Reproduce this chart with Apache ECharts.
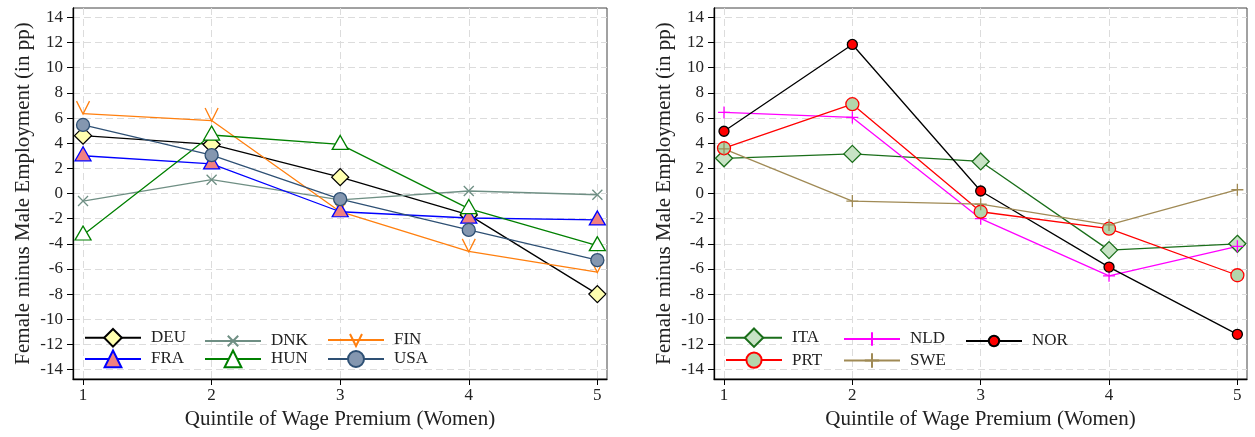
<!DOCTYPE html>
<html>
<head>
<meta charset="utf-8">
<script src="https://cdn.jsdelivr.net/npm/echarts@6/dist/echarts.min.js"></script>
<style>
html,body{margin:0;padding:0;background:#fff;}
#chart{width:1255px;height:437px;}
</style>
</head>
<body>
<div id="chart"></div>
<script>
// ---- data ----
const quintiles = [1, 2, 3, 4, 5];
const yTickValues = [-14, -12, -10, -8, -6, -4, -2, 0, 2, 4, 6, 8, 10, 12, 14];
const xTickValues = [1, 2, 3, 4, 5];

// left panel
const DEU = [4.6, 3.9, 1.3, -1.7, -8.0];
const DNK = [-0.6, 1.1, -0.5, 0.2, -0.1];
const FIN = [6.35, 5.8, -1.45, -4.6, -6.25];
const FRA = [3.0, 2.35, -1.45, -1.95, -2.1];
const HUN = [-3.3, 4.65, 3.9, -1.2, -4.15];
const USA = [5.45, 3.05, -0.45, -2.9, -5.3];

// right panel
const ITA = [2.8, 3.15, 2.55, -4.5, -4.0];
const NLD = [6.45, 6.05, -2.0, -6.55, -4.2];
const NOR = [4.95, 11.85, 0.2, -5.85, -11.2];
const PRT = [3.6, 7.1, -1.45, -2.8, -6.5];
const SWE = [3.55, -0.6, -0.85, -2.5, 0.3];

const leftLegendRows = [['DEU', 'DNK', 'FIN'], ['FRA', 'HUN', 'USA']];
const rightLegendRows = [['ITA', 'NLD', 'NOR'], ['PRT', 'SWE']];

const yTitle = 'Female minus Male Employment (in pp)';
const xTitle = 'Quintile of Wage Premium (Women)';

// ---- helpers ----
const FONT = '"Liberation Serif", "DejaVu Serif", serif';
const pts = arr => quintiles.map((q, i) => [q, arr[i]]);

const XMARK = 'path://M0,0L10,10M10,0L0,10';
const PLUS = 'path://M5,0L5,10M0,5L10,5';
const VMARK = 'path://M0,0L6,12L12,0';

// legend marker box heights (marker drawn at 80% of this)
const legendIconHeight = { DEU: 22, DNK: 13, FIN: 15, FRA: 21, HUN: 21, USA: 20, ITA: 23, NLD: 17, NOR: 13, PRT: 19, SWE: 18 };

function mk(name, data, idx, o) {
  return {
    name: name,
    type: 'line',
    xAxisIndex: idx, yAxisIndex: idx,
    data: pts(data),
    symbol: o.symbol,
    symbolSize: o.size,
    symbolOffset: o.offset || [0, 0],
    showSymbol: true,
    lineStyle: { color: o.line, width: 1.3 },
    itemStyle: { color: o.fill, borderColor: o.border, borderWidth: o.bw || 1.3, opacity: 1 },
    emphasis: { disabled: true },
    animation: false,
    z: 3
  };
}

function xAxis(idx) {
  return {
    type: 'value', gridIndex: idx, min: 0.922, max: 5.075,
    axisLine: { show: true, onZero: false, lineStyle: { color: '#000', width: 1.3 } },
    axisTick: { show: true, length: 6, customValues: xTickValues, lineStyle: { color: '#000' } },
    axisLabel: { customValues: xTickValues, color: '#222', fontFamily: FONT, fontSize: 17, margin: 8 },
    splitLine: { show: true, lineStyle: { color: '#dcdcdc', type: [7, 4], width: 1 } },
    name: xTitle, nameLocation: 'middle', nameGap: 30,
    nameTextStyle: { fontFamily: FONT, fontSize: 21, color: '#222' }
  };
}
function yAxis(idx) {
  return {
    type: 'value', gridIndex: idx, min: -14.75, max: 14.75,
    axisLine: { show: true, onZero: false, lineStyle: { color: '#000', width: 1.3 } },
    axisTick: { show: true, length: 6, customValues: yTickValues, lineStyle: { color: '#000' } },
    axisLabel: { customValues: yTickValues, color: '#222', fontFamily: FONT, fontSize: 17, margin: 10 },
    splitLine: { show: true, lineStyle: { color: '#dcdcdc', type: [7, 4], width: 1 } },
    name: yTitle, nameLocation: 'middle', nameGap: 39,
    nameTextStyle: { fontFamily: FONT, fontSize: 21, color: '#222' }
  };
}

function legendsFor(rows, colX, rowCenter) {
  const out = [];
  rows.forEach((row, r) => {
    row.forEach((name, c) => {
      const h = legendIconHeight[name];
      out.push({
        data: [name], left: colX[c], top: rowCenter[r] - h / 2, orient: 'horizontal',
        itemWidth: 56, itemHeight: h, padding: 0,
        selectedMode: false,
        textStyle: { fontFamily: FONT, fontSize: 17, color: '#222', padding: [0, 0, 0, 5] }
      });
    });
  });
  return out;
}

const series = [
  mk('DEU', DEU, 0, { symbol: 'diamond', size: 17, line: '#000', fill: '#ffffb0', border: '#000' }),
  mk('DNK', DNK, 0, { symbol: XMARK, size: 10, line: '#6f8f84', fill: 'rgba(0,0,0,0)', border: '#6f8f84' }),
  mk('FIN', FIN, 0, { symbol: VMARK, size: [13, 13], offset: [0, -6], line: '#ff7f0e', fill: 'rgba(0,0,0,0)', border: '#ff7f0e' }),
  mk('FRA', FRA, 0, { symbol: 'triangle', size: [16, 14], offset: [0, -2], line: '#0000ff', fill: '#f08080', border: '#0000ff' }),
  mk('HUN', HUN, 0, { symbol: 'triangle', size: [16, 14], offset: [0, -2], line: '#008000', fill: '#ffffff', border: '#008000' }),
  mk('USA', USA, 0, { symbol: 'circle', size: 13, line: '#2e5074', fill: '#8497b0', border: '#2e5074' }),

  mk('ITA', ITA, 1, { symbol: 'diamond', size: 17, line: '#1a6e1a', fill: '#c8e3c5', border: '#1a6e1a' }),
  mk('NLD', NLD, 1, { symbol: PLUS, size: 12, line: '#ff00ff', fill: 'rgba(0,0,0,0)', border: '#ff00ff' }),
  mk('NOR', NOR, 1, { symbol: 'circle', size: 10, line: '#000', fill: '#ff0000', border: '#000' }),
  mk('PRT', PRT, 1, { symbol: 'circle', size: 13, line: '#ff0000', fill: '#b3d6ab', border: '#ff0000' }),
  mk('SWE', SWE, 1, { symbol: PLUS, size: 12, line: '#a08a55', fill: 'rgba(0,0,0,0)', border: '#a08a55' })
];

const chart = echarts.init(document.getElementById('chart'), null, { renderer: 'canvas' });
chart.setOption({
  backgroundColor: '#fff',
  animation: false,
  grid: [
    { left: 73, top: 8, right: 648, bottom: 58, show: true, borderColor: '#444', borderWidth: 1, backgroundColor: 'transparent' },
    { left: 714, top: 8, right: 8, bottom: 58, show: true, borderColor: '#444', borderWidth: 1, backgroundColor: 'transparent' }
  ],
  xAxis: [xAxis(0), xAxis(1)],
  yAxis: [yAxis(0), yAxis(1)],
  legend: legendsFor(leftLegendRows, [84, 204, 327], [339, 360])
    .concat(legendsFor(rightLegendRows, [725, 843, 965], [339, 361])),
  series: series
});
</script>
</body>
</html>
